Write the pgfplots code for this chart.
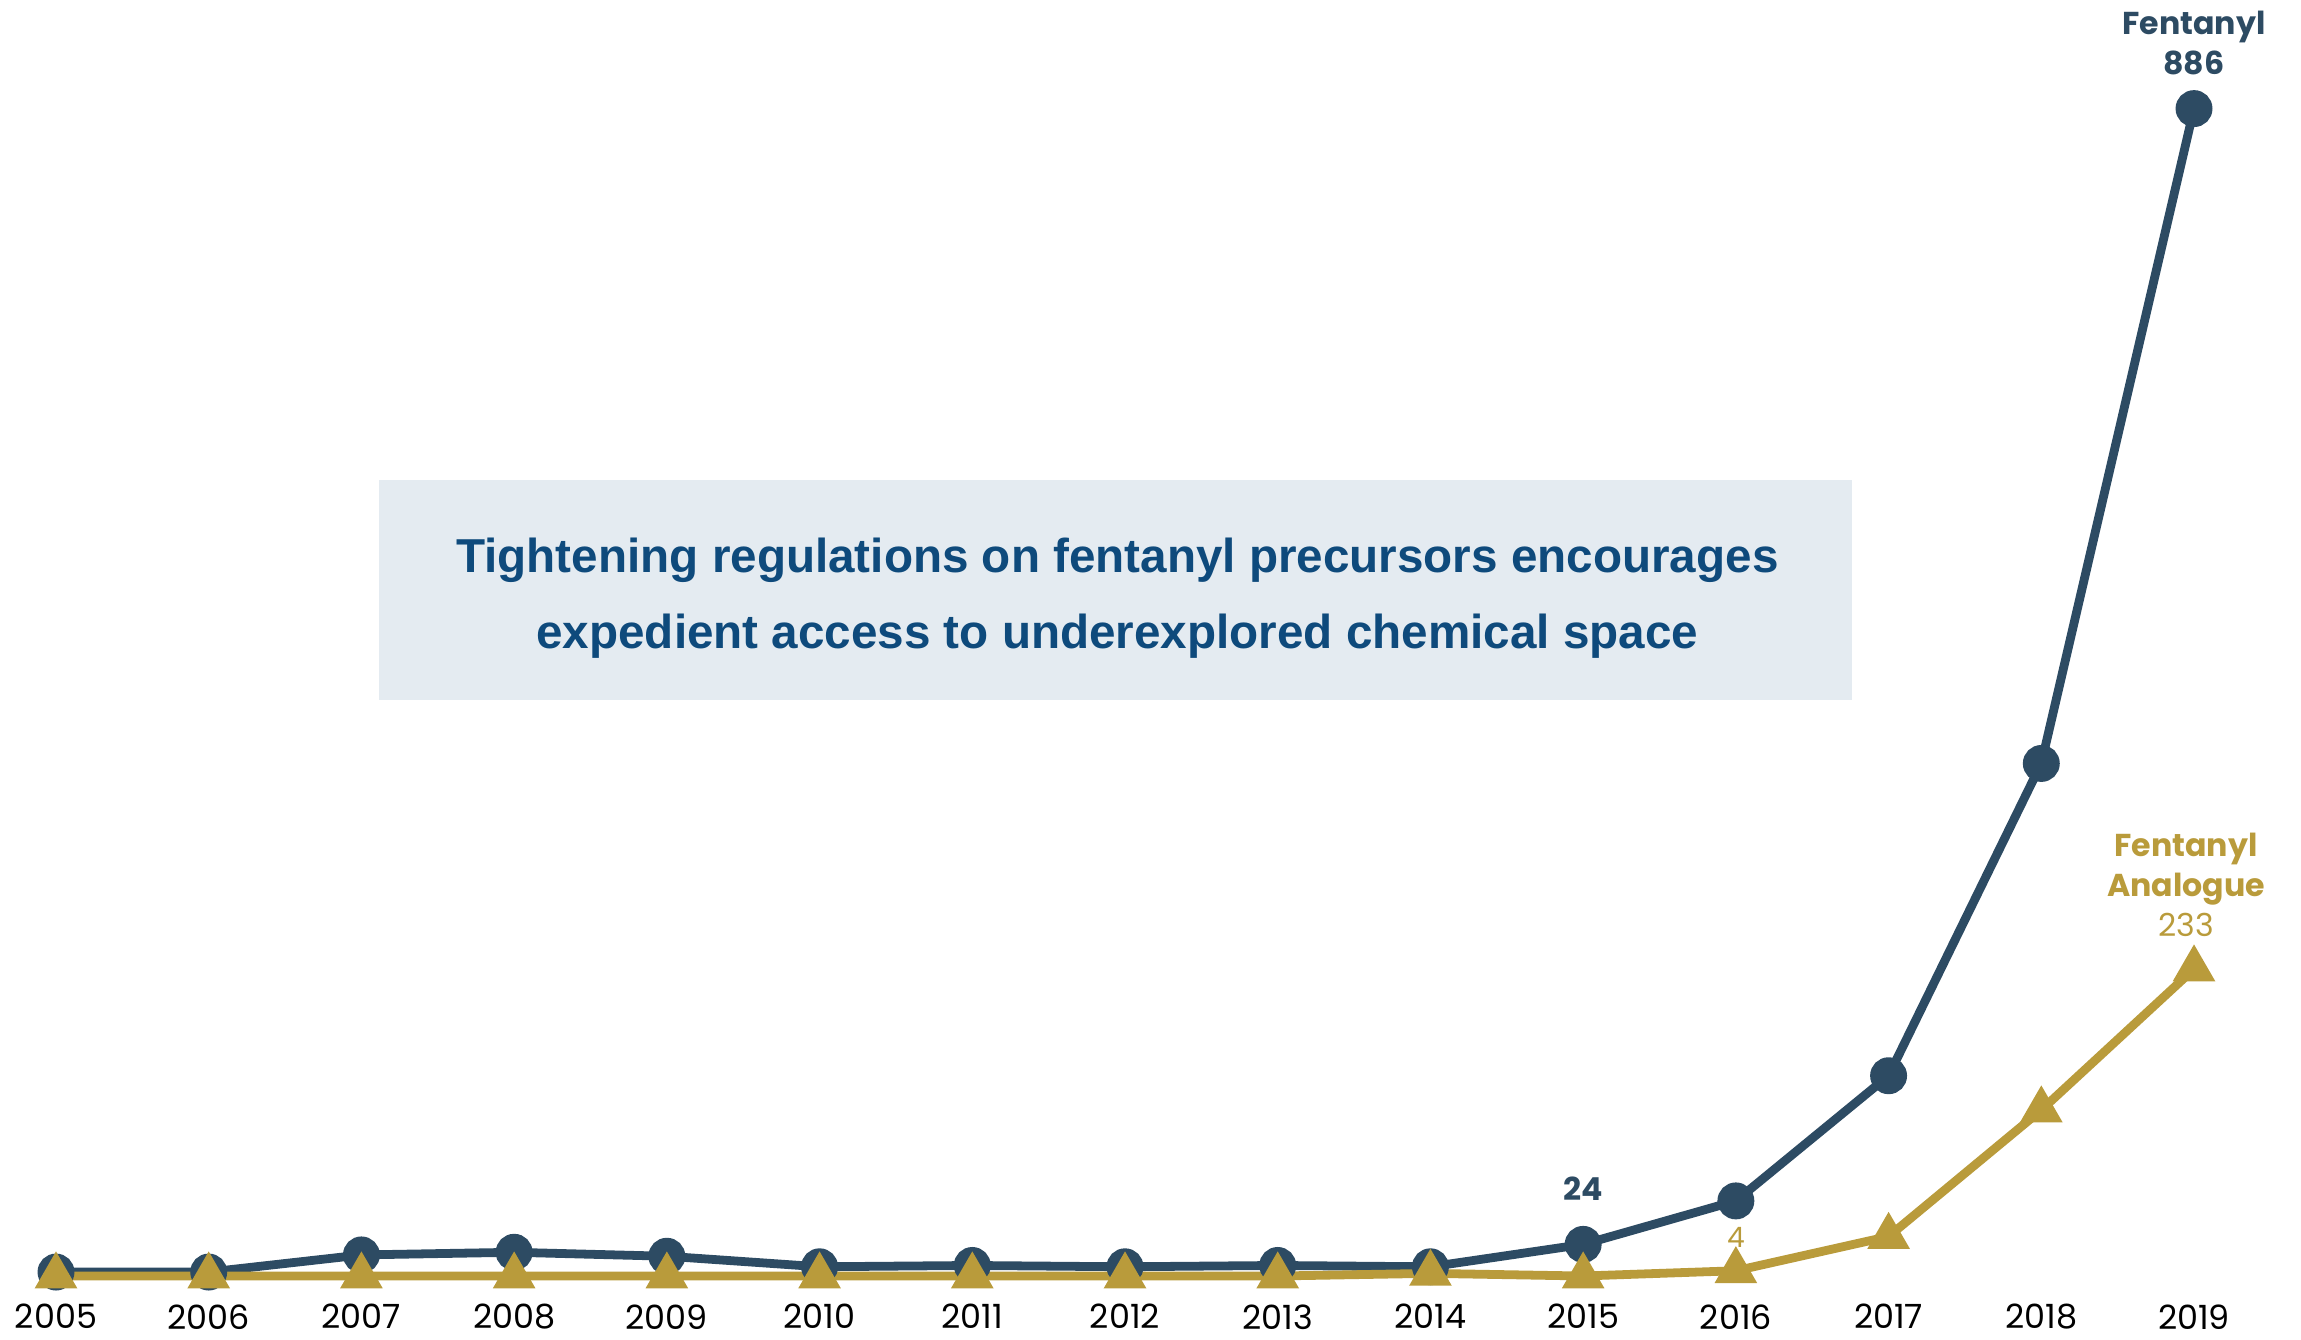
\documentclass[border=0pt]{standalone}
\usepackage{fontspec}
\setmainfont{Liberation Sans}
\newfontfamily\pop{Poppins}
\usepackage{pgfplots}
\pgfplotsset{compat=1.18}

\definecolor{fent}{HTML}{2D4B63}
\definecolor{gold}{HTML}{B99B3B}
\definecolor{boxbg}{HTML}{E4EBF1}
\definecolor{boxtxt}{HTML}{0E4A7C}

\begin{document}
\begin{tikzpicture}
\path[use as bounding box] (-5.6mm,-6.3mm) rectangle (224.5mm,127.6mm);
\begin{axis}[
    scale only axis,
    width=213.8mm, height=116.74mm,
    xmin=2005, xmax=2019,
    ymin=0, ymax=886,
    clip=false,
    axis line style={draw=none},
    ytick=\empty,
    xtick={2005,2006,2007,2008,2009,2010,2011,2012,2013,2014,2015,2016,2017,2018,2019},
    xticklabels={2005,2006,2007,2008,2009,2010,2011,2012,2013,2014,2015,2016,2017,2018,2019},
    major tick length=0pt,
    xticklabel style={font=\pop\fontsize{9.5}{11}\selectfont, text=black, yshift=-1.6mm},
]

% background box with the message
\fill[boxbg] (axis cs:2007.115,437.2) rectangle (axis cs:2016.76,604.1);
\node[boxtxt, align=center, font=\bfseries\fontsize{13.55}{21.4}\selectfont]
    at (axis cs:2011.95,514.5)
    {Tightening regulations on fentanyl precursors encourages\\expedient access to underexplored chemical space};

% Fentanyl
\addplot[fent, line width=2.5pt, mark=*, mark size=4pt, mark options={fill=fent}] coordinates {
    (2005,3) (2006,3) (2007,16) (2008,18) (2009,15) (2010,7) (2011,8)
    (2012,7) (2013,8) (2014,7) (2015,24) (2016,57) (2017,152) (2018,389) (2019,886)
};

% Fentanyl analogue
\addplot[gold, line width=2.5pt, mark=triangle*, mark size=4.5pt, mark options={fill=gold}] coordinates {
    (2005,0) (2006,0) (2007,0) (2008,0) (2009,0) (2010,0) (2011,0)
    (2012,0) (2013,0) (2014,2) (2015,0) (2016,4) (2017,30) (2018,126) (2019,233)
};

% labels
\node[fent, anchor=south, inner sep=0pt, align=center, font=\pop\bfseries\fontsize{9}{11.4}\selectfont, yshift=3.3mm]
    at (axis cs:2019,886) {Fentanyl\\886};
\node[gold, anchor=south, inner sep=0pt, align=center, font=\pop\fontsize{9}{11.4}\selectfont, yshift=3.2mm, xshift=-0.8mm]
    at (axis cs:2019,233) {\bfseries Fentanyl\\\bfseries Analogue\\233};
\node[fent, anchor=south, inner sep=0pt, font=\pop\bfseries\fontsize{9}{11}\selectfont, yshift=4.3mm]
    at (axis cs:2015,24) {24};
\node[gold, anchor=south, inner sep=0pt, font=\pop\fontsize{8}{10}\selectfont, yshift=2.3mm]
    at (axis cs:2016,4) {4};

\end{axis}
\end{tikzpicture}
\end{document}
